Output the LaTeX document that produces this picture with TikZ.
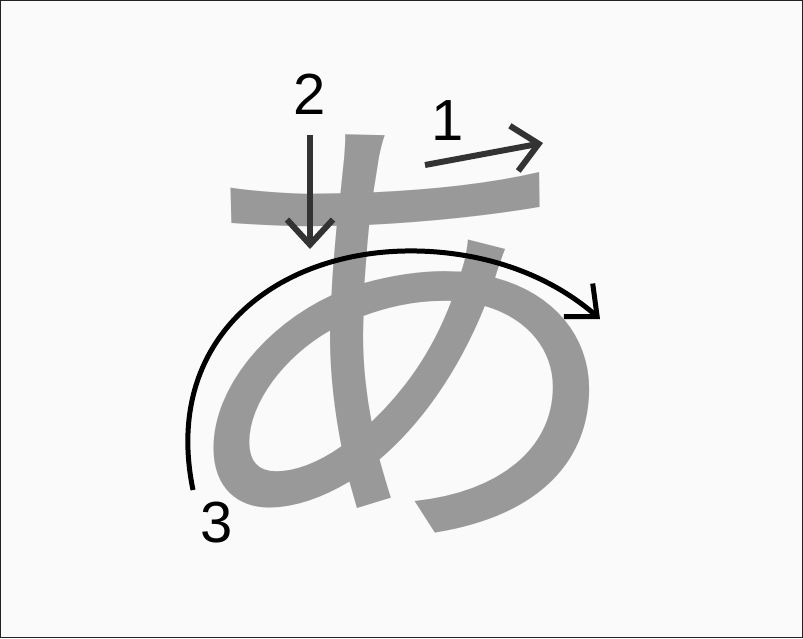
\documentclass[tikz,border=0pt]{standalone}
\usepackage{fontspec}
\setmainfont{Liberation Sans}
\newfontfamily\jpfont{Noto Sans CJK JP}
\usetikzlibrary{arrows.meta}
\definecolor{bg}{HTML}{FAFAFA}
\definecolor{glyph}{HTML}{999999}
\definecolor{arr}{HTML}{333333}
\definecolor{frame}{HTML}{222222}
\tikzset{
  strokearrow/.style={draw=arr, line width=6pt, -{Straight Barb[length=25pt,width=46pt,sharp]}},
  curvearrow/.style={draw=black, line width=5pt, -{Straight Barb[length=25pt,width=44pt,sharp]}},
  numlabel/.style={font=\fontsize{58}{58}\selectfont, text=black, inner sep=0pt},
  kanastyle/.style={font=\jpfont\fontsize{472}{472}\selectfont, text=glyph, inner sep=0pt}
}
\begin{document}
\begin{tikzpicture}[x=1pt,y=-1pt]
\useasboundingbox (0,0) rectangle (803,638);
\path[fill=bg, draw=frame, line width=1pt] (0.5,0.5) rectangle (802.5,637.5);
\node[kanastyle] (kana) at (398.4,334) {あ};
% stroke 1
\coordinate (s1a) at (425,165);
\coordinate (s1b) at (543,143);
\draw[strokearrow] (s1a) -- (s1b);
\node[numlabel] (n1) at (448,121) {1};
% stroke 2
\coordinate (s2a) at (310,135);
\coordinate (s2b) at (310,249);
\draw[strokearrow] (s2a) -- (s2b);
\node[numlabel] (n2) at (310,94) {2};
% stroke 3
\coordinate (s3a) at (193,490);
\coordinate (s3m) at (437,252);
\coordinate (s3b) at (600,319);
\draw[curvearrow] (s3a) .. controls (160,330) and (290,240) .. (s3m) .. controls (510,258) and (562,286) .. (s3b);
\node[numlabel] (n3) at (217,523) {3};
\end{tikzpicture}
\end{document}
